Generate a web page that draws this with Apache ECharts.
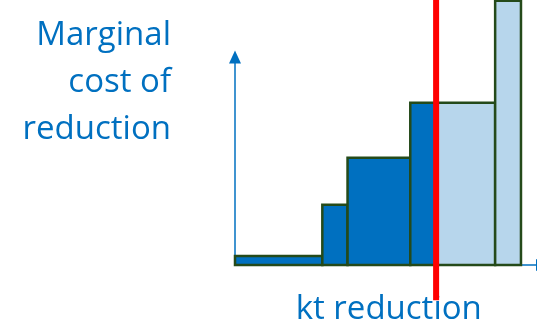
<!DOCTYPE html>
<html>
<head>
<meta charset="utf-8">
<style>
  html, body { margin: 0; padding: 0; background: #ffffff; }
  #chart { width: 537px; height: 322px; }
</style>
<script src="https://cdn.jsdelivr.net/npm/echarts@6/dist/echarts.min.js"></script>
</head>
<body>
<div id="chart"></div>
<script>
// Marginal abatement cost steps: each measure spans [stepStart, stepEnd] kt of reduction
const stepStart = [0, 28.4, 36.6, 57, 65.4, 84.6];
const stepEnd   = [28.4, 36.6, 57, 65.4, 84.6, 93];
const stepCost  = [4.3, 29, 51.6, 78, 78, 127];

// Required reduction (vertical cut-off) and the vertical extent of its line
const cutoff = 65.4;
const cutoffLow = -17;
const cutoffHigh = 128;

const yTitle = 'Marginal\ncost of\nreduction';
const xTitle = 'kt reduction';

const BLUE = '#0070C0';
const LIGHT = '#B7D6EC';
const EDGE = '#244a1a';
const FONT = '"Open Sans", sans-serif';

const steps = stepStart.map((s, i) => [s, stepEnd[i], stepCost[i]]);

const chart = echarts.init(document.getElementById('chart'), null, { renderer: 'canvas' });

chart.setOption({
  animation: false,
  backgroundColor: '#ffffff',
  grid: { left: 235, top: 57, width: 307.5, height: 208, containLabel: false, outerBoundsMode: 'none' },
  xAxis: {
    type: 'value', min: 0, max: 100,
    name: xTitle, nameLocation: 'middle', nameGap: 28,
    nameTextStyle: { color: BLUE, fontSize: 33, fontFamily: FONT, verticalAlign: 'top' },
    axisLine: { show: true, symbol: ['none', 'triangle'], symbolSize: [12, 13],
                lineStyle: { color: BLUE, width: 1.5 } },
    axisTick: { show: false }, axisLabel: { show: false }, splitLine: { show: false }
  },
  yAxis: {
    type: 'value', min: 0, max: 100,
    axisLine: { show: true, symbol: ['none', 'triangle'], symbolSize: [12, 13],
                lineStyle: { color: BLUE, width: 1.5 } },
    axisTick: { show: false }, axisLabel: { show: false }, splitLine: { show: false }
  },
  graphic: [{
    type: 'text', x: 171, y: 12,
    style: { text: yTitle, fill: BLUE, font: '33px ' + FONT, align: 'right', lineHeight: 47 }
  }],
  series: [
    {
      type: 'custom', clip: false, z: 3,
      data: steps,
      encode: { x: [0, 1], y: 2 },
      renderItem(params, api) {
        const x0 = api.value(0), x1 = api.value(1), c = api.value(2);
        const p0 = api.coord([x0, 0]);
        const p1 = api.coord([x1, c]);
        return {
          type: 'rect',
          shape: { x: p0[0], y: p1[1], width: p1[0] - p0[0], height: p0[1] - p1[1] },
          style: { fill: x1 <= cutoff ? BLUE : LIGHT, stroke: EDGE, lineWidth: 2.5 }
        };
      }
    },
    {
      type: 'custom', clip: false, z: 5,
      data: [[cutoff, cutoffLow, cutoffHigh]],
      encode: { x: 0, y: [1, 2] },
      renderItem(params, api) {
        const a = api.coord([api.value(0), api.value(1)]);
        const b = api.coord([api.value(0), api.value(2)]);
        return {
          type: 'line',
          shape: { x1: a[0], y1: a[1], x2: b[0], y2: b[1] },
          style: { stroke: '#ff0000', lineWidth: 6 }
        };
      }
    }
  ]
});
</script>
</body>
</html>
